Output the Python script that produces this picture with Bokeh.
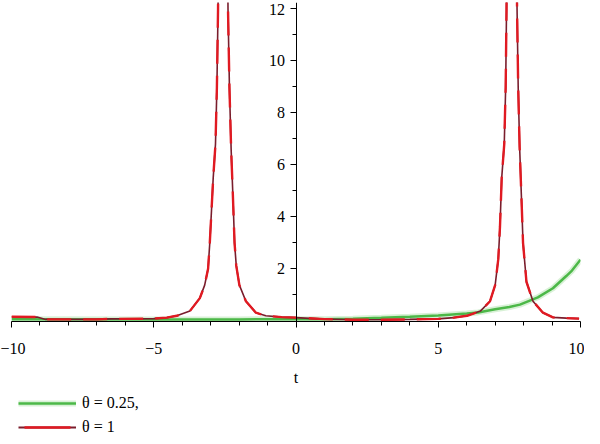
from bokeh.plotting import figure
from bokeh.models import FixedTicker, Legend, LegendItem, Range1d
from bokeh.layouts import column
from bokeh.embed import file_html
from bokeh.resources import INLINE

# ---- data ----
t_red = [-10, -9.1, -8.8, -7.0, -6.5, -5.0, -4.54, -4.19, -3.73, -3.38, -3.21, -3.09,
         -3.03, -2.97, -2.91, -2.83, -2.78, -2.74, -2.565, -2.39, -2.34, -2.28, -2.22,
         -2.16, -2.10, -1.99, -1.76, -1.41, -1.06, -0.5, 0.0, 1.0, 2.0, 3.0, 4.0, 5.0,
         5.55, 6.01, 6.48, 6.82, 7.0, 7.11, 7.17, 7.23, 7.32, 7.37, 7.40, 7.585, 7.77,
         7.81, 7.86, 7.92, 7.98, 8.10, 8.33, 8.68, 9.03, 9.5, 9.95]
y_red = [0.15, 0.14, 0.05, 0.05, 0.07, 0.08, 0.12, 0.19, 0.37, 0.87, 1.37, 2.0,
         3.0, 4.24, 5.5, 6.8, 9.0, 12.0, 40.0, 12.0, 9.0, 6.6, 4.87,
         3.0, 2.12, 1.37, 0.75, 0.31, 0.19, 0.14, 0.12, 0.06, 0.04, 0.04, 0.05, 0.07,
         0.12, 0.19, 0.37, 0.75, 1.37, 2.37, 3.62, 5.49, 6.8, 9.0, 12.0, 40.0, 12.0,
         9.0, 6.7, 4.87, 3.0, 1.5, 0.75, 0.31, 0.13, 0.1, 0.08]

t_green = [-10, -5, -2, 0, 1, 2, 3, 4, 5, 6, 6.4, 7, 7.5, 7.87, 8.5, 9.03, 9.5, 9.7, 10]
y_green = [0.06, 0.05, 0.05, 0.06, 0.06, 0.08, 0.11, 0.15, 0.20, 0.28, 0.32, 0.44, 0.53,
           0.62, 0.9, 1.25, 1.72, 1.93, 2.35]

x_ticks = [-10, -5, 0, 5, 10]
x_minor = [-9, -8, -7, -6, -4, -3, -2, -1, 1, 2, 3, 4, 6, 7, 8, 9]
y_ticks = [2, 4, 6, 8, 10, 12]
y_minor = [1, 3, 5, 7, 9, 11]
labels = ["θ = 0.25,", "θ = 1"]

FONT = "Liberation Serif"
GREEN, GREEN_GLOW = "#4cb848", "#8fd88a"
RED, DARK = "#e01a22", "#7a1d2c"
NAN = [float("nan")]

p = figure(width=584, x_range=Range1d(-10, 10), y_range=Range1d(-0.03, 12.25),
           output_backend="svg", toolbar_location=None,
           frame_width=569, frame_height=319,
           min_border_left=11, min_border_right=4, min_border_top=2, min_border_bottom=0)
p.grid.visible = False
p.outline_line_color = None

p.line(t_green, y_green, line_color=GREEN_GLOW, line_width=6, line_alpha=0.35)
p.line(t_green, y_green, line_color=GREEN, line_width=2.5)
p.line(t_red, y_red, line_color=DARK, line_width=1.6)
p.line(t_red, y_red, line_color=RED, line_width=2.4, line_dash="24 12")

ax = p.xaxis[0]
ax.ticker = FixedTicker(ticks=x_ticks, minor_ticks=x_minor)
ax.major_label_overrides = {-10: "−10", -5: "−5"}
ax.major_tick_in = 0
ax.major_tick_out = 6
ax.minor_tick_in = 0
ax.minor_tick_out = 4
ax.major_label_standoff = 15
ax.axis_label = "t"
ax.axis_label_text_font = FONT
ax.axis_label_text_font_style = "normal"
ax.axis_label_text_font_size = "16px"
ax.axis_label_text_color = "black"
ax.major_label_text_font = FONT
ax.major_label_text_font_size = "16px"
ax.major_label_text_color = "black"
ax.axis_label_standoff = 12

ay = p.yaxis[0]
ay.fixed_location = 0
ay.ticker = FixedTicker(ticks=y_ticks, minor_ticks=y_minor)
ay.major_tick_in = 0
ay.major_tick_out = 6
ay.minor_tick_in = 0
ay.minor_tick_out = 4
ay.major_label_text_font = FONT
ay.major_label_text_font_size = "16px"
ay.major_label_text_color = "black"

# legend strip below the plot (swatch renderers carry no visible data)
q = figure(width=584, height=48, x_range=Range1d(0, 1), y_range=Range1d(0, 1),
           output_backend="svg", toolbar_location=None,
           min_border=0, min_border_left=0, min_border_right=0, min_border_top=0,
           min_border_bottom=0)
q.axis.visible = False
q.grid.visible = False
q.outline_line_color = None
lg1 = q.line(NAN, NAN, line_color=GREEN_GLOW, line_width=6, line_alpha=0.35)
lg2 = q.line(NAN, NAN, line_color=GREEN, line_width=2.5)
lr1 = q.line(NAN, NAN, line_color=DARK, line_width=1.8)
lr2 = q.line(NAN, NAN, line_color=RED, line_width=2.4, line_dash="46 12", line_dash_offset=-6)

legend = Legend(items=[LegendItem(label=labels[0], renderers=[lg1, lg2]),
                       LegendItem(label=labels[1], renderers=[lr1, lr2])],
                location=(7, 0), orientation="vertical",
                label_text_font=FONT, label_text_font_size="16px", label_text_color="black",
                glyph_width=58, glyph_height=18, label_height=18, spacing=6,
                label_standoff=6, padding=0, margin=0, border_line_color=None,
                background_fill_alpha=0)
q.add_layout(legend, "center")

layout = column(p, q, spacing=0)
open("out.html", "w").write(file_html(layout, INLINE))
